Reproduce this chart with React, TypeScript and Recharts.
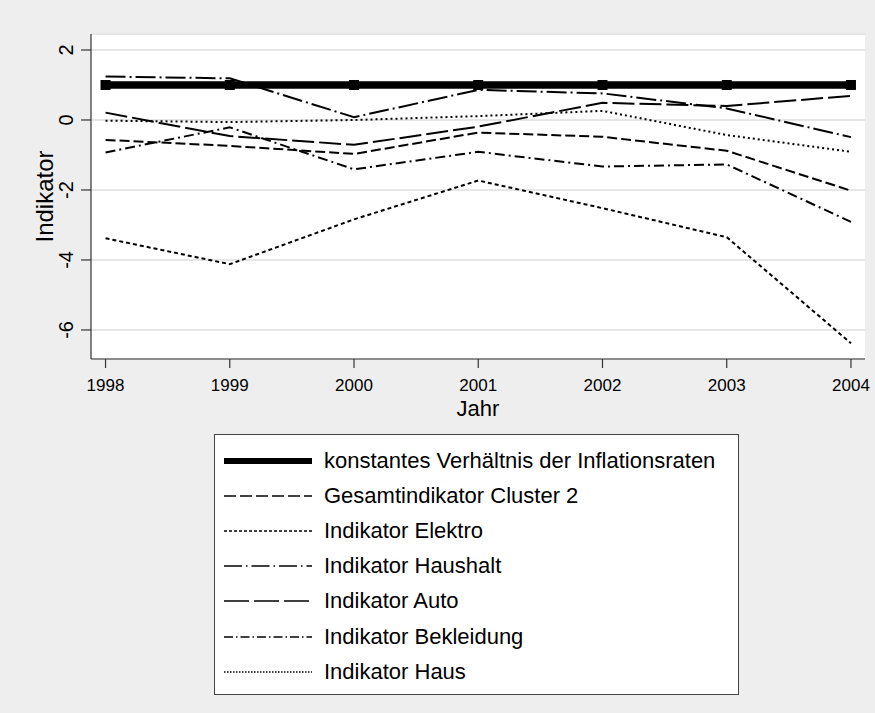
import React from 'react';
import { CartesianGrid, Line, LineChart, XAxis, YAxis } from 'recharts';

// values, one entry per year
const years = [1998, 1999, 2000, 2001, 2002, 2003, 2004];
const konstant = [1, 1, 1, 1, 1, 1, 1];
const gesamtCluster2 = [-0.57, -0.74, -0.97, -0.36, -0.48, -0.88, -2.02];
const elektro = [-3.38, -4.12, -2.84, -1.73, -2.52, -3.35, -6.38];
const haushalt = [1.24, 1.19, 0.08, 0.86, 0.76, 0.33, -0.49];
const auto = [0.21, -0.46, -0.71, -0.19, 0.49, 0.4, 0.69];
const bekleidung = [-0.93, -0.21, -1.41, -0.91, -1.33, -1.27, -2.91];
const haus = [-0.02, -0.06, 0, 0.11, 0.26, -0.43, -0.91];
const yTicks = [-6, -4, -2, 0, 2];

const FONT = '"Liberation Sans", Arial, Helvetica, sans-serif';

interface SeriesDef {
  key: string;
  name: string;
  values: number[];
  width: number;
  dash?: string;
  legendDash?: string;
}

const series: SeriesDef[] = [
  { key: 'konstant', name: 'konstantes Verhältnis der Inflationsraten', values: konstant, width: 7.5 },
  { key: 'gesamt', name: 'Gesamtindikator Cluster 2', values: gesamtCluster2, width: 2, dash: '10 4', legendDash: '12 4' },
  { key: 'elektro', name: 'Indikator Elektro', values: elektro, width: 2, dash: '4 3', legendDash: '3 2' },
  { key: 'haushalt', name: 'Indikator Haushalt', values: haushalt, width: 2, dash: '20 4 2 4', legendDash: '18 4 1.5 4' },
  { key: 'auto', name: 'Indikator Auto', values: auto, width: 2, dash: '22 5', legendDash: '25 5' },
  { key: 'bekleidung', name: 'Indikator Bekleidung', values: bekleidung, width: 2, dash: '10 4 2 4', legendDash: '9 3 1.5 3' },
  { key: 'haus', name: 'Indikator Haus', values: haus, width: 2, dash: '2 3', legendDash: '1.5 1.5' },
];

const data = years.map((year, i) => {
  const row: Record<string, number> = { year };
  series.forEach((s) => {
    row[s.key] = s.values[i];
  });
  return row;
});

const SquareDot = (props: any) => {
  const { cx, cy, index } = props;
  if (cx == null || cy == null) return <g key={`sq-${index}`} />;
  return <rect key={`sq-${index}`} x={cx - 5} y={cy - 5} width={10} height={10} fill="#000" />;
};

const YTick = ({ x, y, payload }: any) => (
  <text
    x={x}
    y={y}
    transform={`rotate(-90 ${x} ${y})`}
    textAnchor="middle"
    fontSize={20}
    fontFamily={FONT}
    fill="#000"
  >
    {payload.value}
  </text>
);

const XTick = ({ x, y, payload }: any) => (
  <text x={x} y={y + 21} textAnchor="middle" fontSize={17} fontFamily={FONT} fill="#000">
    {payload.value}
  </text>
);

const LegendBox = () => (
  <div
    style={{
      position: 'absolute',
      left: 214,
      top: 434,
      width: 523,
      height: 251,
      background: '#fff',
      border: '1px solid #444',
      paddingTop: 8,
    }}
  >
    {series.map((s) => (
      <div key={s.key} style={{ display: 'flex', alignItems: 'center', height: 35.2 }}>
        <svg width={88} height={12} style={{ marginLeft: 9, marginRight: 12, flexShrink: 0 }}>
          <line
            x1={0}
            y1={6}
            x2={88}
            y2={6}
            stroke="#000"
            strokeWidth={s.key === 'konstant' ? 6 : 1.6}
            strokeDasharray={s.legendDash}
          />
        </svg>
        <span style={{ fontSize: 22, fontFamily: FONT, color: '#000', whiteSpace: 'nowrap' }}>{s.name}</span>
      </div>
    ))}
  </div>
);

export default function App() {
  return (
    <div
      style={{
        position: 'absolute',
        left: 0,
        top: 0,
        width: 875,
        height: 713,
        background: '#eeeeee',
        fontFamily: FONT,
      }}
    >
      <LineChart width={875} height={713} data={data} margin={{ top: 34, right: 10, left: 31, bottom: 294 }}>
        <CartesianGrid vertical={false} stroke="#e6e6e6" strokeWidth={2} fill="#ffffff" />
        <XAxis
          dataKey="year"
          type="number"
          domain={[1997.883, 2004.113]}
          ticks={years}
          allowDataOverflow
          height={60}
          tickSize={9}
          tickMargin={2}
          tick={<XTick />}
          axisLine={{ stroke: '#333', strokeWidth: 1.2 }}
          tickLine={{ stroke: '#333', strokeWidth: 1.2 }}
          label={({ viewBox }: any) => (
            <text
              x={viewBox.x + viewBox.width / 2}
              y={viewBox.y + 57}
              textAnchor="middle"
              fontSize={22}
              fontFamily={FONT}
              fill="#000"
            >
              Jahr
            </text>
          )}
        />
        <YAxis
          type="number"
          domain={[-6.83, 2.457]}
          ticks={yTicks}
          allowDataOverflow
          width={60}
          tickSize={10}
          tickMargin={8}
          tick={<YTick />}
          axisLine={{ stroke: '#333', strokeWidth: 1.2 }}
          tickLine={{ stroke: '#333', strokeWidth: 1.2 }}
          label={({ viewBox }: any) => {
            const lx = 53;
            const ly = viewBox.y + viewBox.height / 2;
            return (
              <text
                x={lx}
                y={ly}
                transform={`rotate(-90 ${lx} ${ly})`}
                textAnchor="middle"
                fontSize={24}
                fontFamily={FONT}
                fill="#000"
              >
                Indikator
              </text>
            );
          }}
        />
        {series.map((s) => (
          <Line
            key={s.key}
            dataKey={s.key}
            name={s.name}
            type="linear"
            stroke="#000"
            strokeWidth={s.width}
            strokeDasharray={s.dash}
            dot={s.key === 'konstant' ? SquareDot : false}
            activeDot={false}
            isAnimationActive={false}
          />
        ))}
      </LineChart>
      <LegendBox />
    </div>
  );
}
